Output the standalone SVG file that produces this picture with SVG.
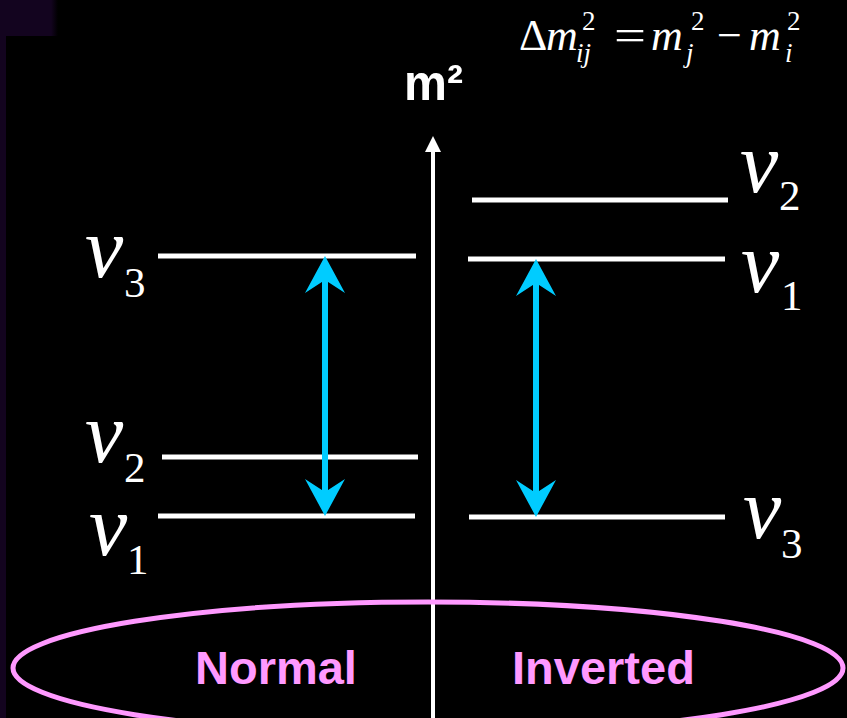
<svg xmlns="http://www.w3.org/2000/svg" width="847" height="718" viewBox="0 0 847 718">
<defs>
<linearGradient id="pg" x1="0" y1="0" x2="1" y2="0">
<stop offset="0" stop-color="#13041f"/><stop offset="0.88" stop-color="#13041f"/><stop offset="1" stop-color="#000"/>
</linearGradient>
<style>
.lvl{stroke:#fff;stroke-width:5;fill:none}
.nu{font-family:"Liberation Serif",serif;font-style:italic;font-size:86px;fill:#fff}
.sub{font-family:"Liberation Serif",serif;font-size:43px;fill:#fff}
.eq{font-family:"Liberation Serif",serif;font-size:44px;fill:#fff}
.eqi{font-family:"Liberation Serif",serif;font-size:44px;font-style:italic;fill:#fff}
.es{font-family:"Liberation Serif",serif;font-size:27px;fill:#fff}
.esi{font-family:"Liberation Serif",serif;font-size:27px;font-style:italic;fill:#fff}
.arr{fill:#00ccff}
.shaft{stroke:#00ccff;stroke-width:6}
.lab{font-family:"Liberation Sans",Arial,sans-serif;font-weight:bold;font-size:47px;fill:#ff99ff}
</style>
</defs>
<rect width="847" height="718" fill="#000"/>
<rect x="0" y="0" width="58" height="36" fill="url(#pg)"/>
<rect x="0" y="0" width="6" height="718" fill="#13041f"/>

<g id="equation">
<text class="eq" x="519" y="50">Δ</text>
<text class="eqi" x="546" y="50">m</text>
<text class="es" x="582" y="30">2</text>
<text class="esi" x="576" y="62">ij</text>
<text class="eq" x="614" y="50" textLength="32" lengthAdjust="spacingAndGlyphs">=</text>
<text class="eqi" x="651" y="50">m</text>
<text class="es" x="691" y="30">2</text>
<text class="esi" x="686" y="62">j</text>
<text class="eq" x="717" y="50">−</text>
<text class="eqi" x="749" y="50">m</text>
<text class="es" x="787" y="30">2</text>
<text class="esi" x="785" y="62">i</text>
</g>

<g id="axis">
<line x1="433" y1="150" x2="433" y2="718" stroke="#fff" stroke-width="4"/>
<polygon points="433,136 425,152 441,152" fill="#fff"/>
<text x="404" y="100" font-family="'Liberation Sans',Arial,sans-serif" font-weight="bold" font-size="50" fill="#fff" textLength="59" lengthAdjust="spacingAndGlyphs">m²</text>
</g>

<g id="normal-nu3">
<line class="lvl" x1="158" y1="256" x2="416" y2="256"/>
<text class="nu" x="85" y="277">ν</text><text class="sub" x="124" y="297">3</text>
</g>
<g id="normal-nu2">
<line class="lvl" x1="162" y1="457" x2="418" y2="457"/>
<text class="nu" x="85" y="462">ν</text><text class="sub" x="124" y="482">2</text>
</g>
<g id="normal-nu1">
<line class="lvl" x1="158" y1="516" x2="415" y2="516"/>
<text class="nu" x="89" y="555">ν</text><text class="sub" x="127" y="574">1</text>
</g>

<g id="inverted-nu2">
<line class="lvl" x1="472" y1="200" x2="728" y2="200"/>
<text class="nu" x="740" y="192">ν</text><text class="sub" x="779" y="210">2</text>
</g>
<g id="inverted-nu1">
<line class="lvl" x1="468" y1="259" x2="725" y2="259"/>
<text class="nu" x="741" y="292">ν</text><text class="sub" x="781" y="310">1</text>
</g>
<g id="inverted-nu3">
<line class="lvl" x1="469" y1="517" x2="725" y2="517"/>
<text class="nu" x="743" y="538">ν</text><text class="sub" x="781" y="558">3</text>
</g>

<g id="connectors">
<line class="shaft" x1="325" y1="280" x2="325" y2="492"/>
<polygon class="arr" points="325,256 345,293 325,280 305,293"/>
<polygon class="arr" points="325,516 345,479 325,492 305,479"/>
<line class="shaft" x1="536" y1="283" x2="536" y2="493"/>
<polygon class="arr" points="536,259 556,296 536,283 516,296"/>
<polygon class="arr" points="536,517 556,480 536,493 516,480"/>
</g>

<g id="hierarchy-labels">
<ellipse cx="428" cy="668" rx="415" ry="66" fill="none" stroke="#ff99ff" stroke-width="5"/>
<text class="lab" x="195" y="684">Normal</text>
<text class="lab" x="512" y="684">Inverted</text>
</g>
</svg>
